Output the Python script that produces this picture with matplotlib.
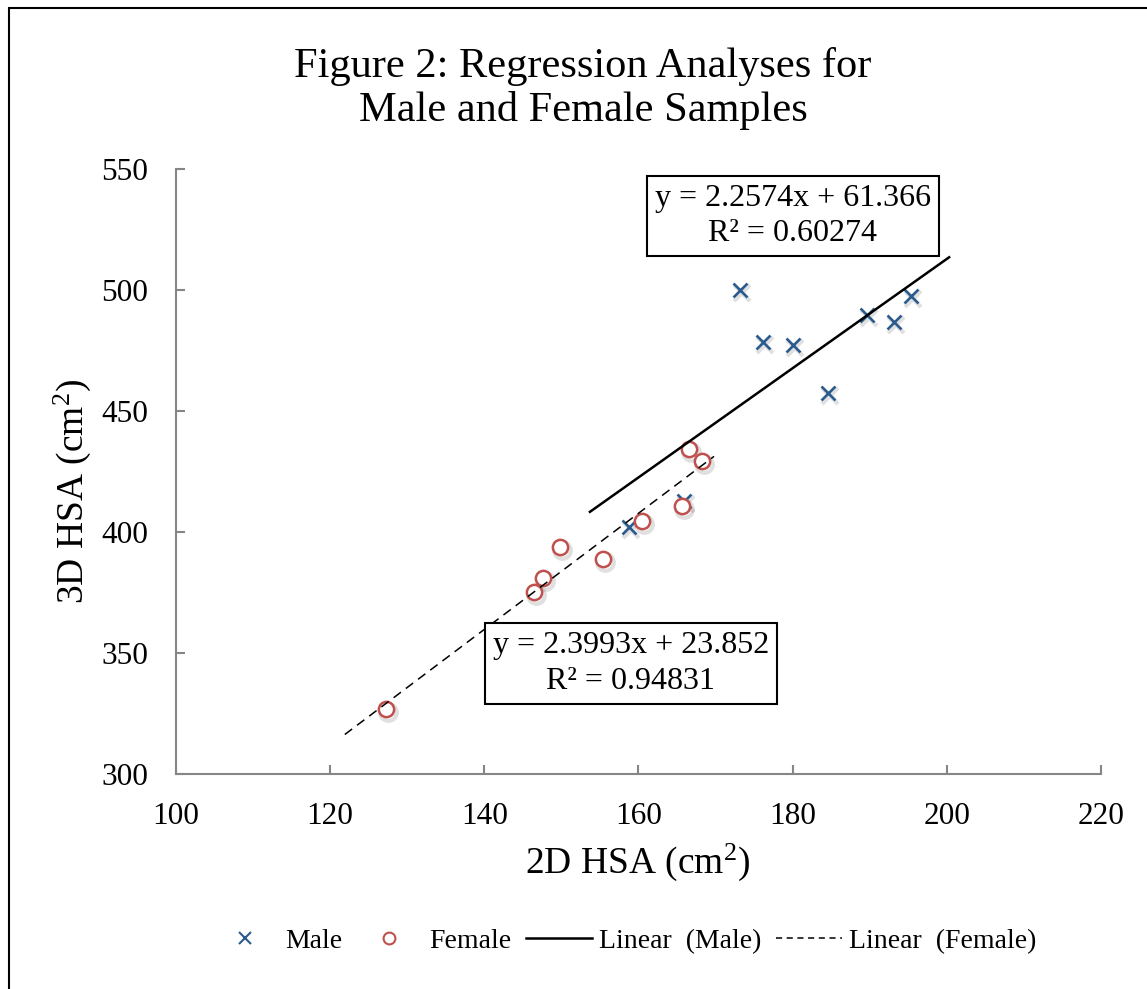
import matplotlib
matplotlib.use("Agg")
import matplotlib.pyplot as plt
import matplotlib.transforms as mtransforms
from matplotlib.lines import Line2D
from matplotlib.patches import Rectangle
import numpy as np

plt.rcParams['font.family'] = ['Liberation Serif', 'DejaVu Serif']
plt.rcParams['mathtext.fontset'] = 'custom'
plt.rcParams['mathtext.rm'] = 'Liberation Serif'
plt.rcParams['mathtext.it'] = 'Liberation Serif:italic'

# ---- data ----
male_x = [173.2, 176.2, 180.1, 184.6, 189.6, 193.1, 195.3, 158.8, 165.9]
male_y = [500.0, 478.5, 477.4, 457.3, 489.8, 486.9, 497.4, 401.9, 413.0]
female_x = [127.2, 146.4, 147.6, 149.8, 155.4, 160.4, 165.7, 166.5, 168.3]
female_y = [326.7, 375.1, 380.9, 393.9, 389.0, 404.7, 410.9, 434.2, 429.5]

male_slope, male_intercept, male_r2 = 2.2574, 61.366, 0.60274
female_slope, female_intercept, female_r2 = 2.3993, 23.852, 0.94831
male_fit_range = [153.7, 200.3]
female_fit_range = [121.9, 169.8]

x_ticks = [100, 120, 140, 160, 180, 200, 220]
y_ticks = [300, 350, 400, 450, 500, 550]

W, H = 1147, 989
fig = plt.figure(figsize=(W / 100, H / 100), dpi=100)
ax = fig.add_axes([176 / W, 1 - 774 / H, (1101 - 176) / W, (774 - 169) / H])

blue = '#2B5A8E'
red = '#C0504D'

# shadows
shadow = mtransforms.offset_copy(ax.transData, fig=fig, x=2, y=-3, units='dots')
ax.plot(male_x, male_y, 'x', ms=11, mew=3.0, color='#000000', alpha=0.12, transform=shadow, zorder=2)
ax.plot(female_x, female_y, 'o', ms=12, mew=3.0, mfc='none', mec='#000000', alpha=0.12, transform=shadow, zorder=2)

ax.plot(male_x, male_y, 'x', ms=10, mew=1.9, color=blue, zorder=3)
ax.plot(female_x, female_y, 'o', ms=11, mew=1.8, mfc='white', mec=red, zorder=3)

mx = np.array(male_fit_range)
fx = np.array(female_fit_range)
ax.plot(mx, male_slope * mx + male_intercept, '-', color='black', lw=1.8, zorder=4)
ax.plot(fx, female_slope * fx + female_intercept, color='black', lw=1.1,
        dashes=(6, 4), zorder=4)

ax.set_xlim(100, 220)
ax.set_ylim(300, 550)
ax.set_xticks(x_ticks)
ax.set_yticks(y_ticks)
ax.tick_params(direction='in', length=6.5, width=1.5, color='#868686',
               labelsize=22.5, pad=20)
for s in ['top', 'right']:
    ax.spines[s].set_visible(False)
for s in ['left', 'bottom']:
    ax.spines[s].set_color('#868686')
    ax.spines[s].set_linewidth(1.5)

# equation boxes
box = dict(boxstyle='square,pad=0.25', fc='white', ec='black', lw=1.5)
ax.text(180.0, 530.6,
        f"y = {male_slope}x + {male_intercept}\nR\u00b2 = {male_r2}",
        ha='center', va='center', multialignment='center', fontsize=23,
        linespacing=1.3, bbox=box, zorder=5)
ax.text(159.0, 345.7,
        f"y = {female_slope}x + {female_intercept}\nR\u00b2 = {female_r2}",
        ha='center', va='center', multialignment='center', fontsize=23,
        linespacing=1.3, bbox=box, zorder=5)

# titles and labels
fig.text(583 / W, 1 - 77 / H, "Figure 2: Regression Analyses for", ha='center',
         va='baseline', fontsize=30.5)
fig.text(583 / W, 1 - 121 / H, "Male and Female Samples", ha='center',
         va='baseline', fontsize=30.5)
fig.text(638 / W, 1 - 862 / H, "2D HSA (cm$^{2}$)", ha='center', va='center', fontsize=27)
fig.text(72 / W, 1 - 491 / H, "3D HSA (cm$^{2}$)", ha='center', va='center',
         rotation=90, fontsize=27)

# legend
handles = [
    Line2D([], [], ls='none', marker='x', ms=8.5, mew=1.5, color=blue),
    Line2D([], [], ls='none', marker='o', ms=8.5, mew=1.5, mfc='white', mec=red),
    Line2D([], [], color='black', lw=1.8),
    Line2D([], [], color='black', lw=1.1, dashes=(4, 3)),
]
labels = ['Male', 'Female', 'Linear  (Male)', 'Linear  (Female)']
fig.legend(handles, labels, loc='center', bbox_to_anchor=(624 / W, 1 - 941 / H),
           ncol=4, frameon=False, fontsize=20, handlelength=2.4,
           handletextpad=0.25, columnspacing=0.5, borderaxespad=0)

# outer chart border
fig.add_artist(Rectangle((9 / W, -0.05), 1.2, (H - 8) / H + 0.05, transform=fig.transFigure,
                         fill=False, ec='black', lw=1.5))

fig.savefig('out.png', dpi=100)
